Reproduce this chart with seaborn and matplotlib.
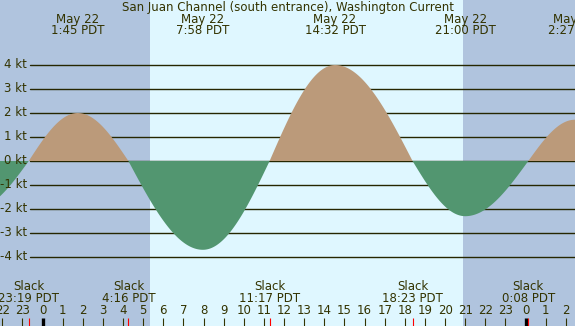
"""
Tidal current chart for San Juan Channel (south entrance).
"""

import numpy as np
import matplotlib
matplotlib.use("Agg")
import matplotlib.pyplot as plt
import seaborn as sns

### Data ###

# hours relative to midnight May 22, speeds in knots
EVENT_HOURS = [-3.4, -0.683, 1.75, 4.267, 7.967, 11.283, 14.533, 18.383, 21.0, 24.133, 26.45, 29.0]
EVENT_SPEEDS = [-2.0, 0.0, 2.0, 0.0, -3.7, 0.0, 4.0, 0.0, -2.3, 0.0, 1.72, 0.0]

MAX_HOURS = [1.75, 7.967, 14.533, 21.0, 26.45]
MAX_DATES = ["May 22", "May 22", "May 22", "May 22", "May 23"]
MAX_LABELS = ["1:45 PDT", "7:58 PDT", "14:32 PDT", "21:00 PDT", "2:27 PDT"]

SLACK_HOURS = [-0.683, 4.267, 11.283, 18.383, 24.133]
SLACK_LABELS = ["23:19 PDT", "4:16 PDT", "11:17 PDT", "18:23 PDT", "0:08 PDT"]

SUNRISE = 5.34
SUNSET = 20.89

KT_LEVELS = [4, 3, 2, 1, 0, -1, -2, -3, -4]
HOUR_TICKS = list(range(-2, 27))

TITLE = "San Juan Channel (south entrance), Washington Current"

### Style ###

W, H = 575, 326
X0, PX_PER_H = 42.5, 20.13
Y0, PX_PER_KT = 161.0, 24.0

NIGHT = "#b0c4de"
DAY = "#dff7ff"
FLOOD = "#bb9a7a"
EBB = "#529670"
INK = "#333300"
GRID = "#262600"


def current_curve(hours, speeds, n=60):
    """Sine shaped current between slack and max events."""
    t_all, v_all = [], []
    for (t0, v0), (t1, v1) in zip(zip(hours, speeds), zip(hours[1:], speeds[1:])):
        f = np.linspace(0, 1, n)
        if v0 == 0:
            v = v1 * np.sin(np.pi / 2 * f)
        else:
            v = v0 * np.cos(np.pi / 2 * f)
        t_all.append(t0 + (t1 - t0) * f)
        v_all.append(v)
    return np.concatenate(t_all), np.concatenate(v_all)


sns.set_style("white")
plt.rcParams["font.family"] = ["DejaVu Sans"]

fig = plt.figure(figsize=(W / 100, H / 100), dpi=100)
ax = fig.add_axes([0, 0, 1, 1])
ax.set_xlim(-X0 / PX_PER_H, (W - X0) / PX_PER_H)
ax.set_ylim((Y0 - H) / PX_PER_KT, Y0 / PX_PER_KT)
ax.axis("off")

# day / night background
ax.axvspan(-10, SUNRISE, color=NIGHT, lw=0, zorder=0)
ax.axvspan(SUNRISE, SUNSET, color=DAY, lw=0, zorder=0)
ax.axvspan(SUNSET, 40, color=NIGHT, lw=0, zorder=0)

# knot grid lines and labels
for level in KT_LEVELS:
    ax.axhline(level, xmin=30 / W, xmax=1, color=GRID, lw=1.0, zorder=1)
    ax.text(27 / W, level, f"{level} kt", transform=ax.get_yaxis_transform(),
            ha="right", va="center", fontsize=8.5, color=INK, zorder=5)

# current
t, v = current_curve(EVENT_HOURS, EVENT_SPEEDS)
ax.fill_between(t, v, 0, where=v >= 0, color=FLOOD, lw=0, zorder=2)
ax.fill_between(t, v, 0, where=v <= 0, color=EBB, lw=0, zorder=2)

xt = ax.get_xaxis_transform()


def fy(py):
    return 1 - py / H


ax.text(0.5, fy(7), TITLE, transform=ax.transAxes, ha="center", va="center",
        fontsize=8.5, color=INK, zorder=6)

for hour, date, label in zip(MAX_HOURS, MAX_DATES, MAX_LABELS):
    ax.text(hour, fy(19), date, transform=xt, ha="center", va="center",
            fontsize=8.5, color=INK, zorder=6)
    ax.text(hour, fy(31), label, transform=xt, ha="center", va="center",
            fontsize=8.5, color=INK, zorder=6)

for hour, label in zip(SLACK_HOURS, SLACK_LABELS):
    ax.text(hour, fy(287), "Slack", transform=xt, ha="center", va="center",
            fontsize=8.5, color=INK, zorder=6)
    ax.text(hour, fy(299), label, transform=xt, ha="center", va="center",
            fontsize=8.5, color=INK, zorder=6)
    ax.vlines(hour, fy(326), fy(318), transform=xt, color="red", lw=0.8, zorder=6)

for hour in HOUR_TICKS:
    ax.text(hour, fy(311), str(hour % 24), transform=xt, ha="center", va="center",
            fontsize=8.5, color=INK, zorder=6)
    width = 2.4 if hour % 24 == 0 else 0.8
    color = "black" if hour % 24 == 0 else INK
    ax.vlines(hour, fy(326), fy(318), transform=xt, color=color, lw=width, zorder=5)

plt.savefig("out.png", dpi=100)
